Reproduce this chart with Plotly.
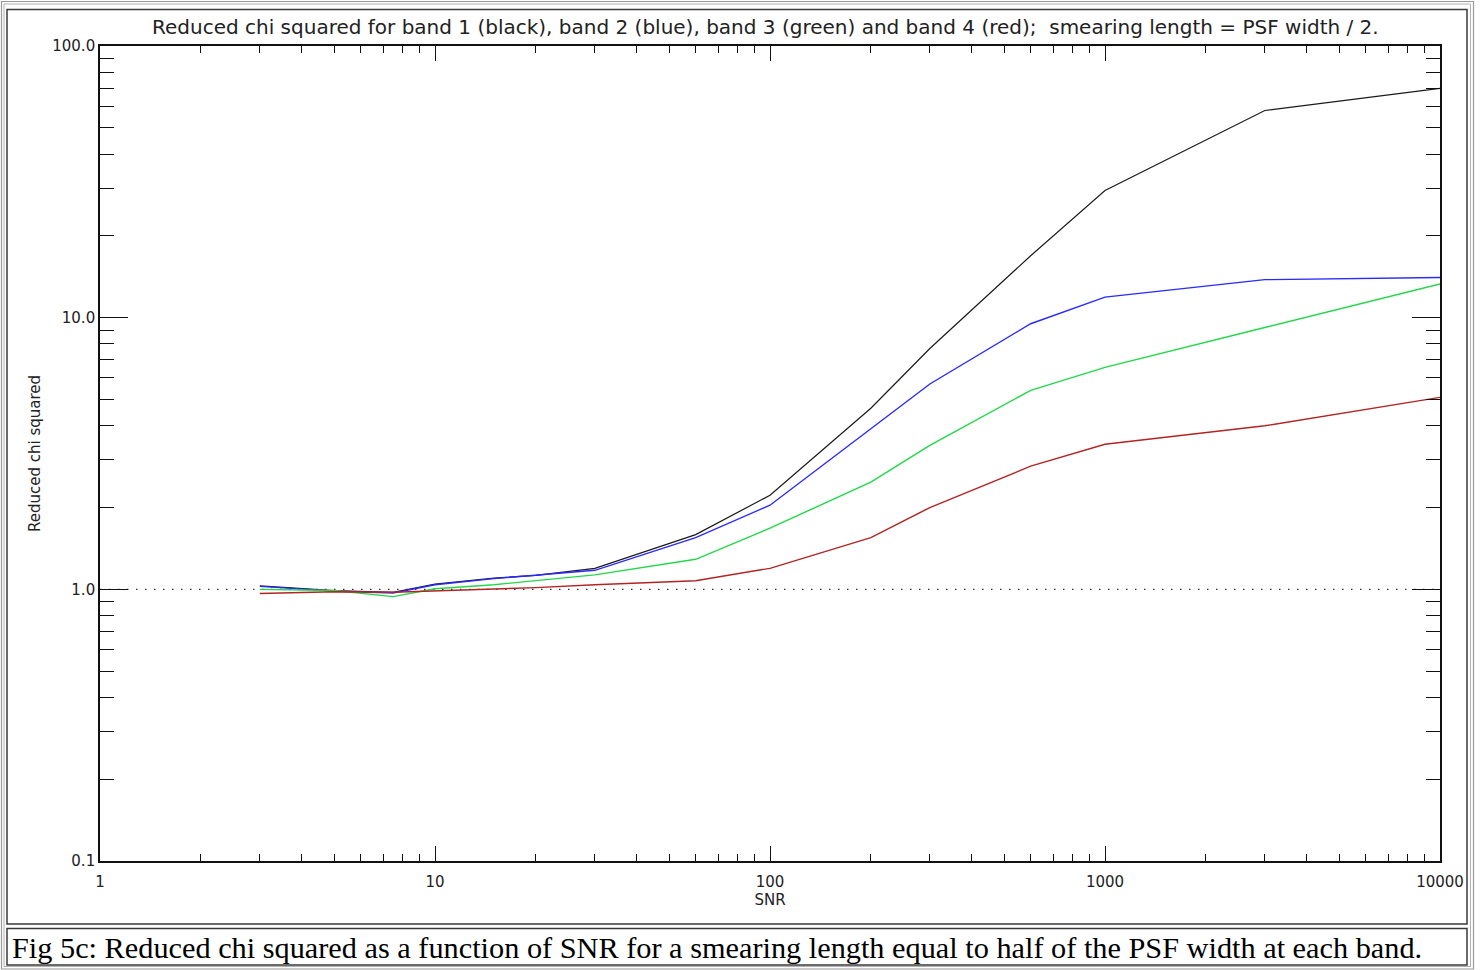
import plotly.graph_objects as go

# ---- data ----
snr = [3, 5, 7.5, 10, 15, 20, 30, 60, 100, 200, 300, 600, 1000, 3000, 10000]
band1_black = [1.03, 0.99, 0.975, 1.045, 1.10, 1.125, 1.195, 1.59, 2.22, 4.64, 7.7, 16.9, 29.4, 57.9, 69.8]
band2_blue = [1.025, 0.985, 0.97, 1.04, 1.095, 1.125, 1.175, 1.55, 2.04, 3.9, 5.7, 9.5, 11.9, 13.8, 14.05]
band3_green = [1.0, 0.99, 0.94, 1.005, 1.04, 1.075, 1.13, 1.29, 1.68, 2.48, 3.39, 5.4, 6.56, 9.2, 13.3]
band4_red = [0.965, 0.98, 0.975, 0.985, 1.005, 1.015, 1.04, 1.075, 1.195, 1.55, 2.0, 2.84, 3.42, 4.0, 5.09]
ref_x = [1, 10000]
ref_y = [1, 1]

x_tickvals = [1, 10, 100, 1000, 10000]
x_ticktext = ["1", "10", "100", "1000", "10000"]
y_tickvals = [0.1, 1, 10, 100]
y_ticktext = ["0.1", "1.0", "10.0", "100.0"]

title_text = ("Reduced chi squared for band 1 (black), band 2 (blue), band 3 (green) "
              "and band 4 (red);  smearing length = PSF width / 2.")
caption_text = ("Fig 5c: Reduced chi squared as a function of SNR for a smearing length "
                "equal to half of the PSF width at each band.")

# ---- geometry (page pixels) ----
W, H = 1481, 970
PL, PR, PT, PB = 100, 1440, 46, 861


def px(xp):
    return (xp - PL) / (PR - PL)


def py(yp):
    return (PB - yp) / (PB - PT)


fig = go.Figure()
fig.add_trace(go.Scatter(x=ref_x, y=ref_y, mode="lines",
                         line=dict(color="#333333", width=1.3, dash="1.5px,7.5px"),
                         hoverinfo="skip", showlegend=False))
for ys, col, w in [(band1_black, "#1a1a1a", 1.2), (band2_blue, "#2a2aff", 1.4),
                   (band3_green, "#22d84a", 1.4), (band4_red, "#b22424", 1.4)]:
    fig.add_trace(go.Scatter(x=snr, y=ys, mode="lines", line=dict(color=col, width=w),
                             showlegend=False))

tickfont = dict(family="DejaVu Sans", size=15, color="#222222")
labfont = dict(family="DejaVu Sans", size=15, color="#222222")

fig.update_xaxes(type="log", range=[0, 4], tickmode="array", tickvals=x_tickvals,
                 ticktext=x_ticktext, ticks="inside", ticklen=15, tickwidth=1.3,
                 tickcolor="#111111", showline=True, linecolor="#111111", linewidth=1.6,
                 mirror="allticks", showgrid=False, zeroline=False, tickfont=tickfont,
                 ticklabelstandoff=6,
                 minor=dict(ticks="inside", ticklen=7, tickwidth=1.2, tickcolor="#111111",
                            dtick="D1", showgrid=False),
                 title=dict(text="SNR", font=labfont, standoff=2))
fig.update_yaxes(type="log", range=[-1, 2], tickmode="array", tickvals=y_tickvals,
                 ticktext=y_ticktext, ticks="inside", ticklen=28, tickwidth=1.3,
                 tickcolor="#111111", showline=True, linecolor="#111111", linewidth=1.6,
                 mirror="allticks", showgrid=False, zeroline=False, tickfont=tickfont,
                 ticklabelstandoff=0,
                 minor=dict(ticks="inside", ticklen=14, tickwidth=1.2, tickcolor="#111111",
                            dtick="D1", showgrid=False),
                 title=dict(text="Reduced chi squared", font=labfont, standoff=8))

shapes = []
for (x0, y0, x1, y1, c, w) in [(1.5, 1.5, 1473.5, 969, "#9a9a9a", 1.2),
                               (4, 4, 1470.5, 966.5, "#b0b0b0", 1.0),
                               (7, 9.5, 1467, 924, "#3a3a3a", 1.5),
                               (7, 928.5, 1467, 965, "#3a3a3a", 1.5)]:
    shapes.append(dict(type="rect", xref="paper", yref="paper",
                       x0=px(x0), x1=px(x1), y0=py(y1), y1=py(y0),
                       line=dict(color=c, width=w), fillcolor="rgba(0,0,0,0)", layer="below"))

annotations = [
    dict(text=title_text, xref="paper", yref="paper", x=px(765), y=py(27),
         xanchor="center", yanchor="middle", showarrow=False,
         font=dict(family="DejaVu Sans", size=20, color="#222222")),
    dict(text=caption_text, xref="paper", yref="paper", x=px(10), y=py(948),
         xanchor="left", yanchor="middle", showarrow=False,
         font=dict(family="Liberation Serif", size=30.3, color="#000000")),
]

fig.update_layout(width=W, height=H, margin=dict(l=PL, r=W - PR, t=PT, b=H - PB),
                  paper_bgcolor="white", plot_bgcolor="white", showlegend=False,
                  shapes=shapes, annotations=annotations)

fig.write_html("out.html", config={"displayModeBar": False},
               post_script="document.body.style.margin='0';document.body.style.overflow='hidden';")
